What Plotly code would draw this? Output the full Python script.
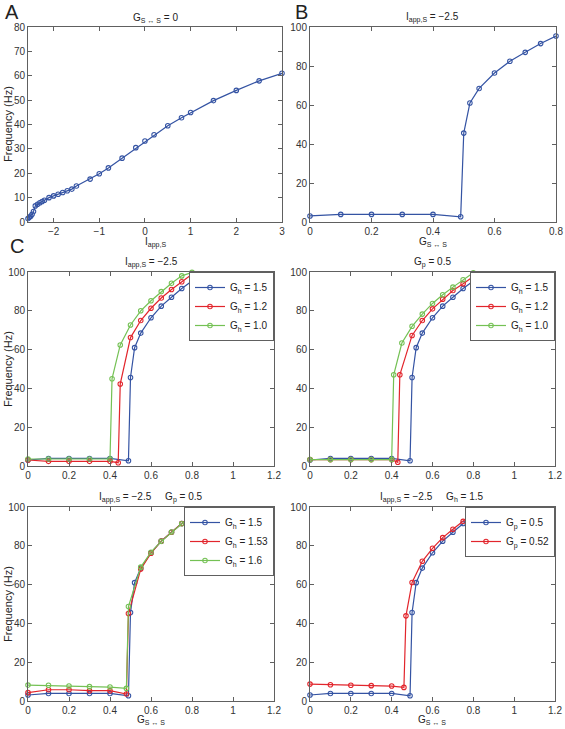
import plotly.graph_objects as go

W, H = 565, 729

# ---------------- data ----------------
iapp_A = [-2.56, -2.53, -2.5, -2.47, -2.44, -2.4, -2.35, -2.3, -2.25, -2.2, -2.1, -2.0, -1.9, -1.8,
          -1.7, -1.6, -1.5, -1.2, -1.0, -0.8, -0.5, -0.2, 0.0, 0.2, 0.5, 0.8, 1.0, 1.5, 2.0, 2.5, 3.0]
freq_A = [1.4, 1.9, 2.4, 3.2, 4.3, 6.6, 7.3, 7.9, 8.4, 8.9, 10.0, 10.7, 11.4, 12.1,
          12.8, 13.5, 14.8, 17.6, 19.8, 22.2, 26.2, 30.5, 33.2, 35.8, 39.5, 42.8, 44.9, 49.8, 54.0, 57.9, 61.0]

g_B = [0, 0.1, 0.2, 0.3, 0.4, 0.49, 0.5, 0.52, 0.55, 0.6, 0.65, 0.7, 0.75, 0.8]
f_B = [3.1, 3.9, 3.9, 3.9, 3.9, 2.7, 45.6, 61.0, 68.5, 76.4, 82.4, 87.0, 91.5, 95.4]

# C1: I_app,S = -2.5
g_C1_red = [0, 0.1, 0.2, 0.3, 0.4, 0.44, 0.45, 0.5, 0.55, 0.6, 0.65, 0.7, 0.75, 0.8]
f_C1_red = [3.1, 2.4, 2.4, 2.4, 2.4, 1.7, 42.3, 66.2, 75.0, 81.3, 86.6, 91.0, 95.0, 98.8]
g_C1_green = [0, 0.1, 0.2, 0.3, 0.4, 0.41, 0.45, 0.5, 0.55, 0.6, 0.65, 0.7, 0.75, 0.8]
f_C1_green = [3.6, 3.6, 3.6, 3.6, 3.6, 45.0, 62.4, 72.7, 80.0, 85.2, 89.9, 94.2, 98.0, 99.8]

# C2: G_p = 0.5
g_C2_red = [0, 0.1, 0.2, 0.3, 0.4, 0.43, 0.44, 0.5, 0.55, 0.6, 0.65, 0.7, 0.75, 0.8]
f_C2_red = [3.3, 3.3, 3.3, 3.3, 3.3, 1.9, 47.0, 67.3, 75.0, 81.0, 86.0, 90.5, 94.0, 97.7]
g_C2_green = [0, 0.1, 0.2, 0.3, 0.4, 0.41, 0.45, 0.5, 0.55, 0.6, 0.65, 0.7, 0.75, 0.8]
f_C2_green = [3.3, 3.3, 3.3, 3.3, 3.3, 47.0, 63.4, 72.0, 78.3, 83.8, 88.3, 92.2, 96.0, 99.6]

# C3: I_app,S = -2.5, G_p = 0.5
g_C3_red = [0, 0.1, 0.2, 0.3, 0.4, 0.48, 0.49, 0.55, 0.6, 0.65, 0.7, 0.75, 0.8]
f_C3_red = [4.3, 5.8, 5.8, 5.3, 5.3, 3.6, 45.1, 68.0, 76.2, 82.4, 87.0, 91.5, 95.4]
g_C3_green = [0, 0.1, 0.2, 0.3, 0.4, 0.48, 0.49, 0.55, 0.6, 0.65, 0.7, 0.75, 0.8]
f_C3_green = [8.2, 8.1, 7.7, 7.4, 7.2, 6.5, 48.7, 69.0, 76.7, 82.3, 87.1, 91.4, 95.2]

# C4: I_app,S = -2.5, G_h = 1.5
g_C4_red = [0, 0.1, 0.2, 0.3, 0.4, 0.46, 0.47, 0.5, 0.55, 0.6, 0.65, 0.7, 0.75, 0.8]
f_C4_red = [8.7, 8.4, 8.1, 7.9, 7.7, 7.0, 43.9, 61.1, 72.0, 78.7, 84.2, 88.5, 92.6, 96.9]

# ---------------- style ----------------
BLUE = "#3453a3"
RED = "#e2252c"
GREEN = "#74c154"
AX = "#606060"
FONT = "Liberation Sans, Arial, DejaVu Sans, sans-serif"

fig = go.Figure()


def add(x, y, color, ax, name=None, legend=None):
    fig.add_trace(go.Scatter(
        x=x, y=y, mode="lines+markers", name=name,
        line=dict(color=color, width=1.2),
        marker=dict(symbol="circle-open", size=4.5, color=color, line=dict(width=1.1, color=color)),
        xaxis="x" + ax, yaxis="y" + ax,
        showlegend=legend is not None, legend=legend if legend else "legend",
        cliponaxis=False,
    ))


add(iapp_A, freq_A, BLUE, "")
add(g_B, f_B, BLUE, "2")

add(g_B, f_B, BLUE, "3", "G<sub>h</sub> = 1.5", "legend")
add(g_C1_red, f_C1_red, RED, "3", "G<sub>h</sub> = 1.2", "legend")
add(g_C1_green, f_C1_green, GREEN, "3", "G<sub>h</sub> = 1.0", "legend")

add(g_B, f_B, BLUE, "4", "G<sub>h</sub> = 1.5", "legend2")
add(g_C2_red, f_C2_red, RED, "4", "G<sub>h</sub> = 1.2", "legend2")
add(g_C2_green, f_C2_green, GREEN, "4", "G<sub>h</sub> = 1.0", "legend2")

add(g_B, f_B, BLUE, "5", "G<sub>h</sub> = 1.5", "legend3")
add(g_C3_red, f_C3_red, RED, "5", "G<sub>h</sub> = 1.53", "legend3")
add(g_C3_green, f_C3_green, GREEN, "5", "G<sub>h</sub> = 1.6", "legend3")

add(g_B, f_B, BLUE, "6", "G<sub>p</sub> = 0.5", "legend4")
add(g_C4_red, f_C4_red, RED, "6", "G<sub>p</sub> = 0.52", "legend4")

# panel boxes in pixels: (left, right, top, bottom)
boxes = {
    "": (28, 282, 27, 222),
    "2": (310, 556, 27, 222),
    "3": (28, 274, 272, 466),
    "4": (310, 555, 272, 466),
    "5": (28, 274, 507, 701),
    "6": (310, 555, 507, 701),
}
xranges = {"": [-2.56, 3], "2": [0, 0.8], "3": [0, 1.2], "4": [0, 1.2], "5": [0, 1.2], "6": [0, 1.2]}
xdt = {"": 1, "2": 0.2, "3": 0.2, "4": 0.2, "5": 0.2, "6": 0.2}
yranges = {"": [0, 80], "2": [0, 100], "3": [0, 100], "4": [0, 100], "5": [0, 100], "6": [0, 100]}
ydt = {"": 10, "2": 20, "3": 20, "4": 20, "5": 20, "6": 20}

common = dict(showline=True, linecolor=AX, linewidth=1, mirror="ticks", ticks="inside",
              ticklen=4, tickcolor=AX, tickwidth=1, showgrid=False, zeroline=False,
              automargin=False, ticklabeloverflow="allow",
              tickfont=dict(size=10, color="#333333", family=FONT))

layout = {}
for k, (l, r, t, b) in boxes.items():
    xa = dict(common, domain=[l / W, r / W], range=xranges[k], dtick=xdt[k], tick0=0,
              anchor="y" + k)
    if k == "":
        xa["tickvals"] = [-2, -1, 0, 1, 2, 3]
    ya = dict(common, domain=[1 - b / H, 1 - t / H], range=yranges[k], dtick=ydt[k], tick0=0,
              anchor="x" + k)
    layout["xaxis" + k] = xa
    layout["yaxis" + k] = ya


def leg(right_px, top_px):
    return dict(x=right_px / W, y=1 - top_px / H, xanchor="right", yanchor="top",
                bgcolor="white", bordercolor=AX, borderwidth=1,
                font=dict(size=10, color="#222222", family=FONT),
                itemwidth=30, tracegroupgap=0)


layout["legend"] = leg(274, 272)
layout["legend2"] = leg(555, 272)
layout["legend3"] = leg(274, 507)
layout["legend4"] = leg(555, 507)

ann = []


def txt(text, xpx, ypx, size=10, xanchor="center", yanchor="bottom", angle=0):
    ann.append(dict(text=text, x=xpx / W, y=1 - ypx / H, xref="paper", yref="paper",
                    xanchor=xanchor, yanchor=yanchor, showarrow=False, textangle=angle,
                    font=dict(size=size, color="#222222", family=FONT)))


SS = "<sub>S \u2194 S</sub>"
IAPP = "I<sub>app,S</sub>"
# titles
txt("G" + SS + " = 0", 155, 26)
txt(IAPP + " = \u22122.5", 433, 26)
txt(IAPP + " = \u22122.5", 151, 271)
txt("G<sub>p</sub> = 0.5", 432, 271)
txt(IAPP + " = \u22122.5     G<sub>p</sub> = 0.5", 151, 506)
txt(IAPP + " = \u22122.5     G<sub>h</sub> = 1.5", 432, 506)
# x axis titles
txt(IAPP, 155, 234, yanchor="top")
txt("G" + SS, 433, 234, yanchor="top")
txt("G" + SS, 151, 712, yanchor="top")
txt("G" + SS, 432, 712, yanchor="top")
# y axis titles
for yc in (124, 369, 604):
    txt("Frequency (Hz)", 8, yc, size=11, yanchor="middle", angle=-90)
# panel letters
txt("A", 3, -1, size=20, xanchor="left", yanchor="top")
txt("B", 293, -1, size=20, xanchor="left", yanchor="top")
txt("C", 8, 233, size=20, xanchor="left", yanchor="top")

fig.update_layout(template="none", width=W, height=H, margin=dict(l=0, r=0, t=0, b=0),
                  paper_bgcolor="white", plot_bgcolor="white",
                  font=dict(family=FONT, size=10, color="#222222"),
                  annotations=ann, **layout)

fig.write_html("out.html", config={"displayModeBar": False},
               post_script="document.body.style.margin='0';document.body.style.overflow='hidden';")
